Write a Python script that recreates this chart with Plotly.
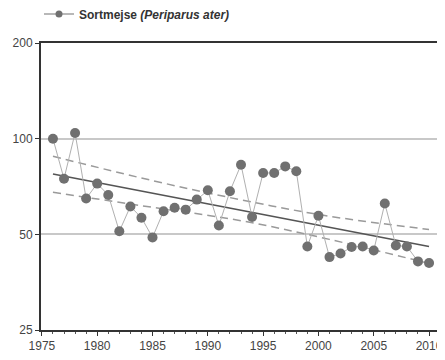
import plotly.graph_objects as go
import math

years = list(range(1976, 2011))
values = [100, 74.8, 104.2, 64.8, 72.2, 66.5, 51.1, 61.2, 56.4, 48.9,
          59.1, 60.6, 59.8, 64.3, 68.8, 53.3, 68.3, 82.8, 56.7, 78.0,
          78.0, 81.8, 79.0, 45.8, 57.2, 42.4, 43.5, 45.6, 45.8, 44.5,
          62.5, 46.1, 45.8, 41.1, 40.6]

trend_years = [1976, 2010]
trend_values = [77.4, 45.8]

band_years = [1976, 1985, 1993, 2001, 2010]
upper_values = [88.0, 73.8, 64.2, 57.0, 51.8]
lower_values = [67.8, 60.8, 55.2, 48.2, 40.5]

y_ticks = [25, 50, 100, 200]
x_ticks = list(range(1975, 2011, 5))
series_name = "<b>Sortmejse <i>(Periparus ater)</i></b>"

FIG_W, FIG_H = 437, 352  # page body has an 8px margin

fig = go.Figure()
for bv in (upper_values, lower_values):
    fig.add_trace(go.Scatter(x=band_years, y=bv, mode="lines", showlegend=False,
                             line=dict(color="#9a9a9a", width=1.5, dash="8px,5px", shape="spline"),
                             hoverinfo="skip"))
fig.add_trace(go.Scatter(x=trend_years, y=trend_values, mode="lines", showlegend=False,
                         line=dict(color="#555555", width=1.6)))
fig.add_trace(go.Scatter(x=years, y=values, mode="lines+markers", showlegend=False,
                         name=series_name,
                         line=dict(color="#b0b0b0", width=1),
                         marker=dict(color="#707070", size=10)))
# legend entry (smaller marker as in the reference legend)
fig.add_trace(go.Scatter(x=[None], y=[None], mode="lines+markers", name=series_name,
                         line=dict(color="#a0a0a0", width=1.5),
                         marker=dict(color="#707070", size=7)))

fig.update_layout(
    width=FIG_W, height=FIG_H,
    margin=dict(l=33, r=6, t=35, b=30, autoexpand=False),
    paper_bgcolor="white", plot_bgcolor="white",
    font=dict(family="Liberation Sans, Arial, sans-serif", size=12, color="#444444"),
    showlegend=True,
    legend=dict(xref="container", yref="container", x=31 / FIG_W, y=1 - 6 / FIG_H,
                xanchor="left", yanchor="middle",
                bgcolor="rgba(0,0,0,0)", font=dict(size=12, color="#333333"),
                itemwidth=30),
)
fig.update_xaxes(range=[1974.92, 2010.9], tickvals=x_ticks, showgrid=False, automargin=False,
                 showline=True, linecolor="#333333", linewidth=2, mirror=True,
                 ticks="outside", ticklen=4, tickcolor="#333333",
                 minor=dict(dtick=1, ticks="outside", ticklen=2, tickcolor="#555555"),
                 zeroline=False)
fig.update_yaxes(type="log", range=[math.log10(25), math.log10(200)], tickvals=y_ticks,
                 ticktext=[str(v) for v in y_ticks], automargin=False,
                 showgrid=True, gridcolor="#c8c8c8", gridwidth=1.5,
                 showline=True, linecolor="#333333", linewidth=2, mirror=True,
                 ticks="outside", ticklen=4, tickcolor="#333333", zeroline=False)

fig.write_html("out.html")
